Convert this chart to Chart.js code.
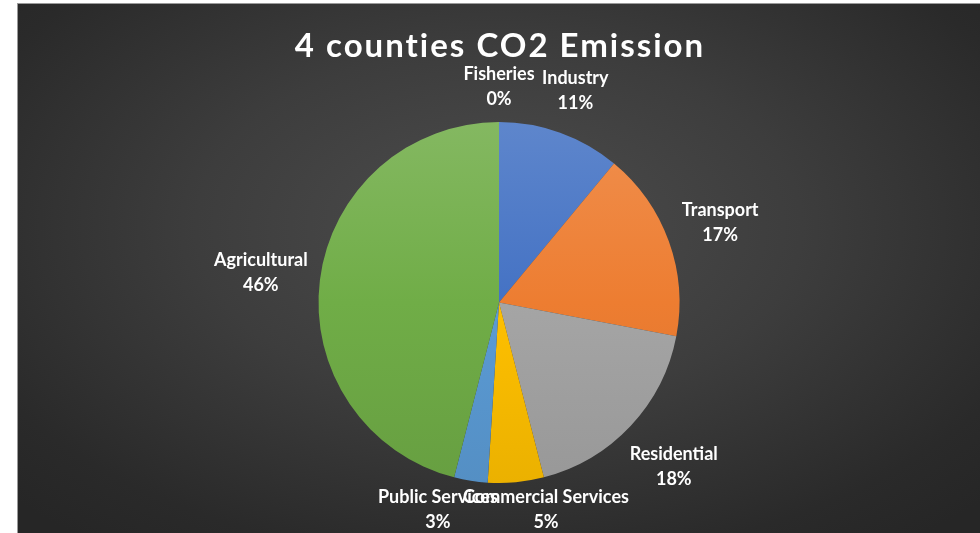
<!DOCTYPE html>
<html>
<head>
<meta charset="utf-8">
<script src="https://cdn.jsdelivr.net/npm/chart.js@4/dist/chart.umd.min.js"></script>
<style>
  html, body { margin: 0; padding: 0; background: #ffffff; }
  #frame {
    position: absolute; left: 17px; top: 3px; width: 963px; height: 530px;
    border-left: 1px solid #9a9a9a; border-top: 1px solid #9a9a9a; box-sizing: border-box;
    background: radial-gradient(ellipse 70% 75% at 50% 42%, #4d4d4d 0%, #3d3d3d 45%, #2a2a2a 85%, #262626 100%);
  }
  #frame canvas { position: absolute; left: 0; top: 0; }
</style>
</head>
<body>
<div id="frame"><canvas id="chart" width="962" height="529"></canvas></div>
<script>
const chartTitle = '4 counties CO2 Emission';
const sectors = ['Industry', 'Transport', 'Residential', 'Commercial Services', 'Public Services', 'Agricultural', 'Fisheries'];
const shares = [11, 17, 18, 5, 3, 46, 0];
const sectorColors = ['#4472C4', '#ED7D31', '#A5A5A5', '#FFC000', '#5B9BD5', '#70AD47', '#264478'];

function shade(hex, amt) {
  const n = parseInt(hex.slice(1), 16);
  let r = (n >> 16) & 255, g = (n >> 8) & 255, b = n & 255;
  const f = c => Math.max(0, Math.min(255, Math.round(amt >= 0 ? c + (255 - c) * amt : c * (1 + amt))));
  return `rgb(${f(r)},${f(g)},${f(b)})`;
}

// Soft top-to-bottom shading on each slice
function sliceFill(ctx) {
  const base = sectorColors[ctx.dataIndex];
  const area = ctx.chart.chartArea;
  if (!area) return base;
  const g = ctx.chart.ctx.createLinearGradient(0, area.top, 0, area.bottom);
  g.addColorStop(0, shade(base, 0.14));
  g.addColorStop(0.5, base);
  g.addColorStop(1, shade(base, -0.08));
  return g;
}

const LABEL_FONT = 'bold 18px Lato, "Open Sans", sans-serif';
const LINE_H = 25;

// Title and the two-line "name / percent" labels outside each slice
const outsideLabels = {
  id: 'outsideLabels',
  afterDraw(chart) {
    const c = chart.ctx;
    c.save();
    c.fillStyle = '#ffffff';
    c.textAlign = 'center';
    c.textBaseline = 'middle';
    c.font = 'bold 33px Lato, "Open Sans", sans-serif';
    if ('letterSpacing' in c) c.letterSpacing = '2px';
    c.fillText(chartTitle, chart.width / 2 + 1, 42);
    if ('letterSpacing' in c) c.letterSpacing = '0px';

    c.font = LABEL_FONT;
    const h = LINE_H * 2;
    const meta = chart.getDatasetMeta(0);
    const boxes = meta.data.map((arc, i) => {
      const p = arc.getProps(['x', 'y', 'startAngle', 'endAngle', 'outerRadius'], true);
      const mid = (p.startAngle + p.endAngle) / 2;
      const ux = Math.cos(mid), uy = Math.sin(mid);
      const name = sectors[i];
      const pct = shares[i] + '%';
      const w = Math.max(c.measureText(name).width, c.measureText(pct).width);
      const ext = Math.abs(ux) * w / 2 + Math.abs(uy) * h / 2;
      const d = p.outerRadius + 10 + ext;
      let cx = p.x + ux * d, cy = p.y + uy * d;
      // keep the label block inside the canvas
      cy = Math.min(cy, chart.height + 2 - h / 2);
      return { name, pct, w, cx, cy };
    });
    // ease neighbouring labels on the same row apart
    for (let i = 0; i < boxes.length; i++) {
      for (let j = i + 1; j < boxes.length; j++) {
        const a = boxes[i], b = boxes[j];
        if (Math.abs(a.cy - b.cy) >= h) continue;
        const overlap = (a.w + b.w) / 2 - Math.abs(a.cx - b.cx);
        if (overlap <= 0) continue;
        const push = overlap * 0.3;
        const dir = a.cx >= b.cx ? 1 : -1;
        a.cx += dir * push;
        b.cx -= dir * push;
      }
    }
    boxes.forEach(bx => {
      c.fillText(bx.name, bx.cx, bx.cy - LINE_H / 2);
      c.fillText(bx.pct, bx.cx, bx.cy + LINE_H / 2);
    });
    c.restore();
  }
};

new Chart(document.getElementById('chart'), {
  type: 'pie',
  data: {
    labels: sectors,
    datasets: [{
      data: shares,
      backgroundColor: sliceFill,
      borderWidth: 0
    }]
  },
  options: {
    responsive: false,
    animation: false,
    layout: { padding: { top: 118, bottom: 50 } },
    plugins: {
      legend: { display: false },
      tooltip: { enabled: false },
      title: { display: false }
    }
  },
  plugins: [outsideLabels]
});
</script>
</body>
</html>
